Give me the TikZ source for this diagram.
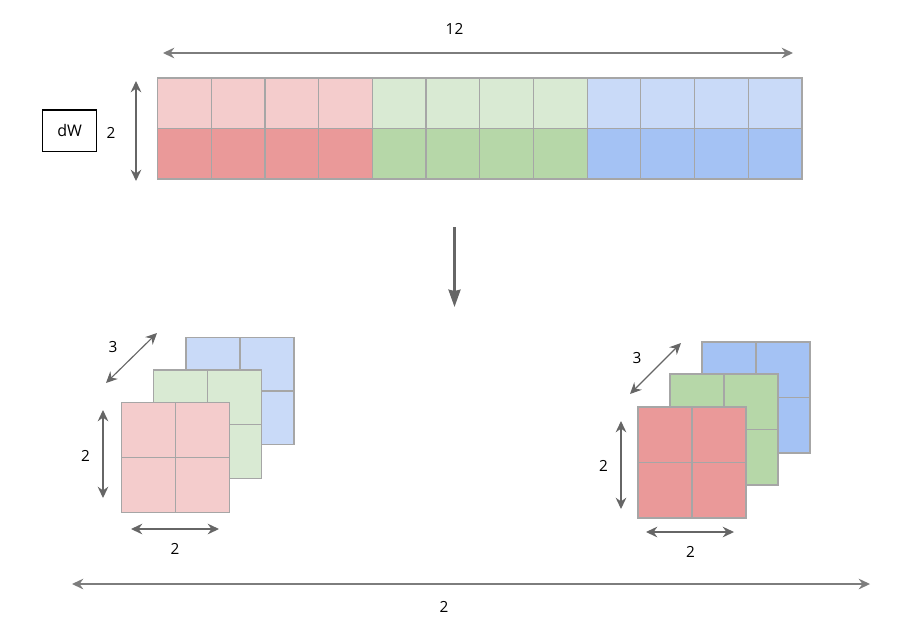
\documentclass[tikz,border=0pt]{standalone}
\usepackage{fontspec}
\setmainfont{Open Sans}
\usetikzlibrary{arrows.meta}
\definecolor{rl}{HTML}{F4CCCC}\definecolor{rd}{HTML}{EA9999}
\definecolor{gl}{HTML}{D9EAD3}\definecolor{gd}{HTML}{B6D7A8}
\definecolor{bl}{HTML}{C9DAF8}\definecolor{bd}{HTML}{A4C2F4}
\definecolor{edge}{HTML}{A6A6A6}\definecolor{dim}{HTML}{666666}
\tikzset{
 cellbox/.style={draw=edge,line width=.9pt,inner sep=0pt,outer sep=0pt,anchor=north west},
 dimline/.style={draw=dim,line width=.85pt,{Stealth[length=8.5pt,width=8pt,inset=2.8pt]}-{Stealth[length=8.5pt,width=8pt,inset=2.8pt]}},
 longline/.style={dimline,draw=dim!85!white,line width=1.1pt},
 flowline/.style={draw=dim,line width=1.9pt,-{Stealth[length=13pt,width=9pt,inset=1pt]}},
 lab/.style={font=\fontsize{11.5pt}{13pt}\selectfont,text=black,inner sep=0pt},
 keybox/.style={draw=black,line width=1pt,minimum width=40.6pt,minimum height=31pt,inner sep=0pt,font=\fontsize{12pt}{14pt}\selectfont}
}
\newcommand{\sheet}[5]{% name, x, y, cell height in px, fill
 \foreach \ii in {0,1}{\foreach \jj in {0,1}{
  \pgfmathsetmacro{\cx}{#2+\ii*54}
  \pgfmathsetmacro{\cy}{#3+\jj*#4}
  \node[cellbox,fill=#5,minimum width=40.5pt,minimum height=#4*0.75pt] (#1\ii\jj) at (\cx,\cy) {};
 }}}
\begin{document}
\begin{tikzpicture}[x=0.75pt,y=-0.75pt]
\useasboundingbox (0,0) rectangle (906,633);
% top strip
\foreach \i/\cl/\cd in {0/rl/rd,1/rl/rd,2/rl/rd,3/rl/rd,4/gl/gd,5/gl/gd,6/gl/gd,7/gl/gd,8/bl/bd,9/bl/bd,10/bl/bd,11/bl/bd}{
  \pgfmathsetmacro{\cx}{157.5+\i*53.71}
  \node[cellbox,fill=\cl,minimum width=40.28pt,minimum height=37.9pt] (top\i) at (\cx,78) {};
  \node[cellbox,fill=\cd,minimum width=40.28pt,minimum height=37.9pt] (bot\i) at (\cx,128.5) {};
}
\node[keybox] (dw) at (69.7,130.7) {dW};
\node[lab] (l2a) at (111,133) {2};
\node[lab] (l12) at (454.5,28.5) {12};
\coordinate (t1) at (163,53); \coordinate (t2) at (793,53);
\draw[longline] (t1) -- (t2);
\coordinate (v1) at (136,81); \coordinate (v2) at (136,181);
\draw[dimline] (v1) -- (v2);
\coordinate (f1) at (454.5,227); \coordinate (f2) at (454.5,307);
\draw[flowline] (f1) -- (f2);
% left stack
\sheet{lb}{186}{337.5}{53.5}{bl}
\sheet{lg}{153.5}{370}{54.3}{gl}
\sheet{lr}{121.5}{402.5}{54.8}{rl}
\node[lab] (l3l) at (113,347) {3};
\coordinate (a1) at (157,333); \coordinate (a2) at (106,383);
\draw[dimline] (a1) -- (a2);
\node[lab] (l2l) at (85.5,456) {2};
\coordinate (b1) at (103,410); \coordinate (b2) at (103,498);
\draw[dimline] (b1) -- (b2);
\coordinate (c1) at (131,529); \coordinate (c2) at (219,529);
\draw[dimline] (c1) -- (c2);
\node[lab] (l2m) at (175,549) {2};
% right stack
\sheet{rb}{702}{342}{55.5}{bd}
\sheet{rg}{670}{374}{55.5}{gd}
\sheet{rr}{638}{407}{55.5}{rd}
\node[lab] (l3r) at (637,358) {3};
\coordinate (d1) at (681,343); \coordinate (d2) at (630,394);
\draw[dimline] (d1) -- (d2);
\node[lab] (l2r) at (603.5,466) {2};
\coordinate (e1) at (621,421); \coordinate (e2) at (621,509);
\draw[dimline] (e1) -- (e2);
\coordinate (g1) at (646,532); \coordinate (g2) at (734,532);
\draw[dimline] (g1) -- (g2);
\node[lab] (l2s) at (690.5,552) {2};
% bottom
\coordinate (h1) at (72,584); \coordinate (h2) at (870,584);
\draw[longline] (h1) -- (h2);
\node[lab] (l2b) at (444,607) {2};
\end{tikzpicture}
\end{document}
